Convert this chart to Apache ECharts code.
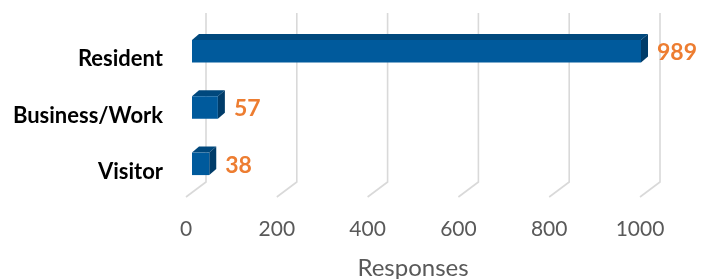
<!DOCTYPE html>
<html>
<head>
<meta charset="utf-8">
<script src="https://cdn.jsdelivr.net/npm/echarts@6/dist/echarts.min.js"></script>
<style>
html, body { margin: 0; padding: 0; background: #fff; }
#chart { width: 706px; height: 279px; }
</style>
</head>
<body>
<div id="chart"></div>
<script>
var categories = ["Resident", "Business/Work", "Visitor"];
var responses = [989, 57, 38];
var xTicks = [0, 200, 400, 600, 800, 1000];

// 3d look: wall sits behind the front plane, bars sit in the middle
var wallDx = 20, wallDy = -15;
var barDx = 6, barDy = -5, depthX = 7, depthY = -6;
var barH = 22.5;

function renderGrid(params, api) {
	var cs = params.coordSys;
	var p = api.coord([api.value(0), 0]);
	var x = p[0], bottom = cs.y + cs.height;
	return {
		type: "polyline",
		shape: { points: [[x + wallDx, cs.y + wallDy], [x + wallDx, bottom + wallDy], [x, bottom]] },
		style: { stroke: "#d9d9d9", lineWidth: 1.6, fill: null }
	};
}

function renderBar(params, api) {
	var idx = api.value(1), val = api.value(0);
	var s = api.coord([0, idx]), e = api.coord([val, idx]);
	var x0 = s[0] + barDx, x1 = e[0] + barDx;
	var yc = s[1] + barDy;
	var yT = yc - barH / 2, yB = yc + barH / 2;
	return {
		type: "group",
		children: [{
			type: "polygon",
			shape: { points: [[x0, yT], [x0 + depthX, yT + depthY], [x1 + depthX, yT + depthY], [x1, yT]] },
			style: { fill: "#00487d" }
		}, {
			type: "polygon",
			shape: { points: [[x1, yT], [x1 + depthX, yT + depthY], [x1 + depthX, yB + depthY], [x1, yB]] },
			style: { fill: "#003c69" }
		}, {
			type: "rect",
			shape: { x: x0, y: yT, width: x1 - x0, height: barH },
			style: { fill: "#005a9c" }
		}, {
			type: "text",
			x: x1 + depthX + 9,
			y: yc + 1.5,
			style: {
				text: String(val),
				fill: "#ed7d31",
				font: "bold 23px Lato",
				align: "left",
				verticalAlign: "middle"
			}
		}]
	};
}

var chart = echarts.init(document.getElementById("chart"));
chart.setOption({
	backgroundColor: "#fff",
	animation: false,
	grid: { left: 186, right: 66, top: 28, bottom: 82, outerBoundsMode: "none", containLabel: false },
	xAxis: {
		type: "value",
		min: 0,
		max: 1000,
		interval: 200,
		name: "Responses",
		nameLocation: "middle",
		nameGap: 59,
		nameTextStyle: { color: "#595959", fontFamily: "Lato", fontSize: 24 },
		axisLine: { show: false },
		axisTick: { show: false },
		splitLine: { show: false },
		axisLabel: {
			color: "#595959", fontFamily: "Lato", fontSize: 21, margin: 22,
			formatter: function (v) { return String(v); }
		}
	},
	yAxis: {
		type: "category",
		data: categories,
		inverse: true,
		axisLine: { show: false },
		axisTick: { show: false },
		axisLabel: {
			color: "#000", fontFamily: "Lato", fontWeight: "bold", fontSize: 22, margin: 23,
			verticalAlign: "top", lineHeight: 6
		}
	},
	series: [{
		type: "custom",
		renderItem: renderGrid,
		data: xTicks.map(function (t) { return [t, 0]; }),
		z: 1
	}, {
		type: "custom",
		renderItem: renderBar,
		data: responses.map(function (v, i) { return [v, i]; }),
		z: 2
	}]
});
</script>
</body>
</html>
